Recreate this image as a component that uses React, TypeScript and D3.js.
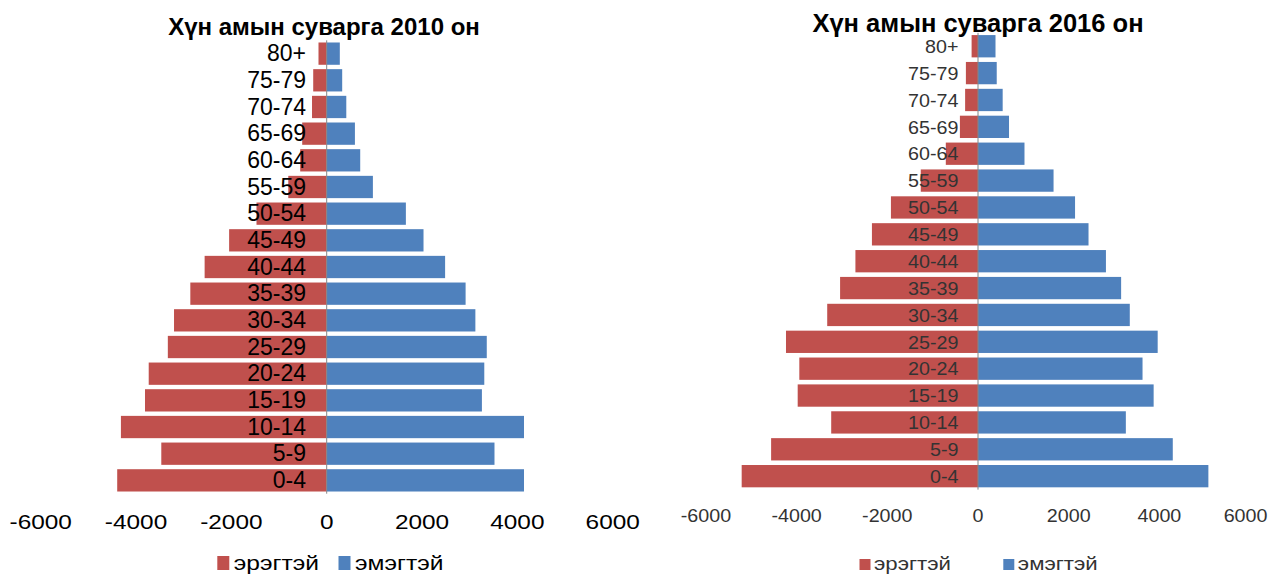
import React from "react";
import * as d3 from "d3";

// ---- data ----
const ageGroups = [
  "80+", "75-79", "70-74", "65-69", "60-64", "55-59", "50-54", "45-49", "40-44",
  "35-39", "30-34", "25-29", "20-24", "15-19", "10-14", "5-9", "0-4",
];
const male2010 = [172, 283, 308, 514, 556, 806, 1473, 2047, 2561, 2861, 3203, 3333, 3734, 3812, 4317, 3470, 4395];
const female2010 = [275, 325, 411, 592, 703, 969, 1661, 2031, 2484, 2914, 3119, 3358, 3306, 3256, 4139, 3520, 4139];
const male2016 = [141, 267, 284, 399, 710, 1262, 1920, 2339, 2703, 3041, 3325, 4234, 3940, 3976, 3237, 4562, 5211];
const female2016 = [386, 413, 544, 684, 1025, 1666, 2140, 2437, 2821, 3156, 3347, 3962, 3628, 3873, 3260, 4295, 5080];
const xTicks = [-6000, -4000, -2000, 0, 2000, 4000, 6000];
const legendLabels = ["эрэгтэй", "эмэгтэй"];
const titles = ["Хүн амын суварга 2010 он", "Хүн амын суварга 2016 он"];

const RED = "#C0504D";
const BLUE = "#4F81BD";
const FONT = "'Liberation Sans', Arial, sans-serif";
const W = 1269;

type Cfg = {
  title: string;
  male: number[];
  female: number[];
  x0: number;
  x1: number;
  y0: number;
  y1: number;
  pad: number;
  titleX: number;
  titleY: number;
  titleSize: number;
  catSize: number;
  catSx: number;
  catGap: number;
  catDy: number;
  tickSize: number;
  tickSx: number;
  tickY: number;
  textFill: string;
  legend: { redX: number; redY: number; redW: number; redH: number; blueX: number; textGap: number; size: number; sx: number; baseY: number };
};

function SText({ x, y, sx, children, ...rest }: any) {
  return (
    <text transform={`translate(${x},${y}) scale(${sx},1)`} {...rest}>
      {children}
    </text>
  );
}

function Pyramid({ c }: { c: Cfg }) {
  const x = d3.scaleLinear().domain([-6000, 6000]).range([c.x0, c.x1]);
  const y = d3.scaleBand<string>().domain(ageGroups).range([c.y0, c.y1]).paddingInner(c.pad).paddingOuter(c.pad / 2);
  const zero = x(0);
  const L = c.legend;
  return (
    <g>
      {ageGroups.map((g, i) => (
        <g key={g}>
          <rect x={x(-c.male[i])} y={y(g)} width={zero - x(-c.male[i])} height={y.bandwidth()} fill={RED} />
          <rect x={zero} y={y(g)} width={x(c.female[i]) - zero} height={y.bandwidth()} fill={BLUE} />
        </g>
      ))}
      <line x1={zero} x2={zero} y1={c.y0} y2={c.y1} stroke="#868686" strokeWidth={1} />
      {ageGroups.map((g) => (
        <SText key={g} x={zero - c.catGap} y={(y(g) as number) + y.bandwidth() / 2 + c.catDy} sx={c.catSx}
          textAnchor="end" fontSize={c.catSize} fontFamily={FONT} fill={c.textFill}>
          {g}
        </SText>
      ))}
      {xTicks.map((t) => {
        const label = String(t);
        const half = (label.length * 0.556 * c.tickSize * c.tickSx) / 2;
        const overflow = x(t) + half > W - 1.5;
        return (
          <SText key={t} x={overflow ? W - 1.5 : x(t)} y={c.tickY} sx={c.tickSx}
            textAnchor={overflow ? "end" : "middle"} fontSize={c.tickSize}
            fontFamily={FONT} fill={c.textFill}>
            {label}
          </SText>
        );
      })}
      <text x={c.titleX} y={c.titleY} textAnchor="middle" fontSize={c.titleSize} fontWeight="bold" fontFamily={FONT} fill="#000">
        {c.title}
      </text>
      <rect x={L.redX} y={L.redY} width={L.redW} height={L.redH} fill={RED} />
      <SText x={L.redX + L.redW + L.textGap} y={L.baseY} sx={L.sx} fontSize={L.size} fontFamily={FONT} fill={c.textFill}>
        {legendLabels[0]}
      </SText>
      <rect x={L.blueX} y={L.redY} width={L.redW} height={L.redH} fill={BLUE} />
      <SText x={L.blueX + L.redW + L.textGap} y={L.baseY} sx={L.sx} fontSize={L.size} fontFamily={FONT} fill={c.textFill}>
        {legendLabels[1]}
      </SText>
    </g>
  );
}

const left: Cfg = {
  title: titles[0],
  male: male2010,
  female: female2010,
  x0: 40.7,
  x1: 612.7,
  y0: 40.3,
  y1: 493.7,
  pad: 0.164,
  titleX: 324,
  titleY: 34.7,
  titleSize: 24,
  catSize: 23,
  catSx: 1,
  catGap: 20.7,
  catDy: 7.8,
  tickSize: 20,
  tickSx: 1.22,
  tickY: 529.3,
  textFill: "#000",
  legend: { redX: 217.3, redY: 556, redW: 12, redH: 14, blueX: 338.5, textGap: 4.5, size: 20.5, sx: 1.2, baseY: 570 },
};

const right: Cfg = {
  title: titles[1],
  male: male2016,
  female: female2016,
  x0: 705.9,
  x1: 1250.1,
  y0: 32.8,
  y1: 489.6,
  pad: 0.17,
  titleX: 978,
  titleY: 32.3,
  titleSize: 25.5,
  catSize: 18.6,
  catSx: 1.06,
  catGap: 19.5,
  catDy: 6.7,
  tickSize: 18.6,
  tickSx: 1.06,
  tickY: 522.3,
  textFill: "#333",
  legend: { redX: 859.5, redY: 559, redW: 11, redH: 11, blueX: 1003.3, textGap: 3.5, size: 19, sx: 1.17, baseY: 570 },
};

export default function App() {
  return (
    <div style={{ position: "absolute", left: 0, top: 0, width: W, height: 574, background: "#fff" }}>
      <svg width={W} height={574} style={{ display: "block" }}>
        <rect width={W} height={574} fill="#fff" />
        <Pyramid c={left} />
        <Pyramid c={right} />
      </svg>
    </div>
  );
}
